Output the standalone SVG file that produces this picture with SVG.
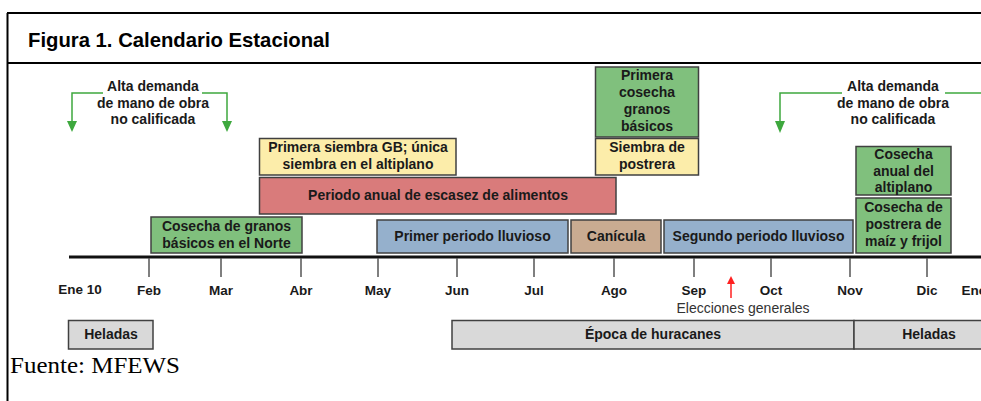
<svg xmlns="http://www.w3.org/2000/svg" width="981" height="401" viewBox="0 0 981 401">
<style>
.frame{stroke:#000;stroke-width:2;fill:none}
.box{stroke:#404040;stroke-width:1.5}
.g{fill:#80c07d}
.y{fill:#fcedaa}
.r{fill:#d97b7b}
.b{fill:#95b0cc}
.t{fill:#c9ab91}
.h{fill:#d9d9d9}
.lbl{font-family:"Liberation Sans",Arial,sans-serif;font-weight:bold;font-size:14px;fill:#1a1a1a;text-anchor:middle}
.mon{font-family:"Liberation Sans",Arial,sans-serif;font-weight:bold;font-size:13.5px;fill:#1a1a1a;text-anchor:middle}
.tick{stroke:#555;stroke-width:1.5}
.gl{stroke:#3ea83e;stroke-width:1.5;fill:none}
</style>
<g id="frame">
<line class="frame" x1="7.5" y1="13" x2="7.5" y2="401"/>
<line class="frame" x1="7" y1="13" x2="981" y2="13"/>
<line class="frame" x1="7" y1="63" x2="981" y2="63"/>
<text x="28" y="47" font-family="'Liberation Sans',Arial,sans-serif" font-weight="bold" font-size="21" fill="#000" textLength="302" lengthAdjust="spacingAndGlyphs">Figura 1. Calendario Estacional</text>
</g>
<g id="connectors">
<path class="gl" d="M103,93 H72 V121"/>
<path d="M67,121 L77,121 L72,132 Z" fill="#3ea83e"/>
<path class="gl" d="M202,93 H227 V121"/>
<path d="M222,121 L232,121 L227,132 Z" fill="#3ea83e"/>
<path class="gl" d="M842,93 H780 V121"/>
<path d="M775,121 L785,121 L780,133 Z" fill="#3ea83e"/>
<path class="gl" d="M945,93 H981"/>
<line x1="731" y1="298" x2="731" y2="282" stroke="#ff2020" stroke-width="1.5"/>
<path d="M727,284 L735,284 L731,276 Z" fill="#ff2020"/>
</g>
<g id="demanda1">
<text class="lbl" x="153" y="91">Alta demanda</text>
<text class="lbl" x="153" y="108">de mano de obra</text>
<text class="lbl" x="153" y="124">no calificada</text>
</g>
<g id="demanda2">
<text class="lbl" x="893" y="91">Alta demanda</text>
<text class="lbl" x="893" y="108">de mano de obra</text>
<text class="lbl" x="893" y="124">no calificada</text>
</g>
<g id="primera-cosecha">
<rect class="box g" x="595.5" y="67" width="103" height="70"/>
<text class="lbl" x="647" y="80">Primera</text>
<text class="lbl" x="647" y="97">cosecha</text>
<text class="lbl" x="647" y="114">granos</text>
<text class="lbl" x="647" y="131">básicos</text>
</g>
<g id="siembra-postrera">
<rect class="box y" x="595.5" y="138.5" width="103" height="36.5"/>
<text class="lbl" x="647" y="152">Siembra de</text>
<text class="lbl" x="647" y="169">postrera</text>
</g>
<g id="primera-siembra">
<rect class="box y" x="259.5" y="138.5" width="196.5" height="36.5"/>
<text class="lbl" x="358" y="152">Primera siembra GB; única</text>
<text class="lbl" x="358" y="169">siembra en el altiplano</text>
</g>
<g id="escasez">
<rect class="box r" x="259.5" y="177.5" width="356.5" height="36.5"/>
<text class="lbl" x="438" y="200">Periodo anual de escasez de alimentos</text>
</g>
<g id="cosecha-norte">
<rect class="box g" x="151" y="217" width="151" height="36"/>
<text class="lbl" x="226.5" y="231">Cosecha de granos</text>
<text class="lbl" x="226.5" y="248">básicos en el Norte</text>
</g>
<g id="primer-lluvioso">
<rect class="box b" x="377" y="220" width="191" height="33"/>
<text class="lbl" x="472.5" y="241">Primer periodo lluvioso</text>
</g>
<g id="canicula">
<rect class="box t" x="571" y="220" width="90" height="33"/>
<text class="lbl" x="616" y="241">Canícula</text>
</g>
<g id="segundo-lluvioso">
<rect class="box b" x="664" y="220" width="189" height="33"/>
<text class="lbl" x="758.5" y="241">Segundo periodo lluvioso</text>
</g>
<g id="cosecha-altiplano">
<rect class="box g" x="856" y="146.5" width="95" height="48.5"/>
<text class="lbl" x="903.5" y="159">Cosecha</text>
<text class="lbl" x="903.5" y="176">anual del</text>
<text class="lbl" x="903.5" y="192">altiplano</text>
</g>
<g id="cosecha-postrera">
<rect class="box g" x="856" y="198" width="95" height="55"/>
<text class="lbl" x="903.5" y="212">Cosecha de</text>
<text class="lbl" x="903.5" y="229">postrera de</text>
<text class="lbl" x="903.5" y="246">maíz y frijol</text>
</g>
<g id="axis">
<line x1="69" y1="257" x2="981" y2="257" stroke="#111" stroke-width="3"/>
<line class="tick" x1="149" y1="258" x2="149" y2="277"/>
<line class="tick" x1="221" y1="258" x2="221" y2="277"/>
<line class="tick" x1="301" y1="258" x2="301" y2="277"/>
<line class="tick" x1="378" y1="258" x2="378" y2="277"/>
<line class="tick" x1="457" y1="258" x2="457" y2="277"/>
<line class="tick" x1="534" y1="258" x2="534" y2="277"/>
<line class="tick" x1="614" y1="258" x2="614" y2="277"/>
<line class="tick" x1="694" y1="258" x2="694" y2="277"/>
<line class="tick" x1="771" y1="258" x2="771" y2="277"/>
<line class="tick" x1="850" y1="258" x2="850" y2="277"/>
<line class="tick" x1="927" y1="258" x2="927" y2="277"/>
<text class="mon" x="80" y="294">Ene 10</text>
<text class="mon" x="149" y="295">Feb</text>
<text class="mon" x="221" y="295">Mar</text>
<text class="mon" x="301" y="295">Abr</text>
<text class="mon" x="378" y="295">May</text>
<text class="mon" x="457" y="295">Jun</text>
<text class="mon" x="534" y="295">Jul</text>
<text class="mon" x="614" y="295">Ago</text>
<text class="mon" x="694" y="295">Sep</text>
<text class="mon" x="771" y="295">Oct</text>
<text class="mon" x="850" y="295">Nov</text>
<text class="mon" x="927" y="295">Dic</text>
<text class="mon" x="974" y="295" text-anchor="start">Ene</text>
</g>
<g id="elecciones">
<text x="743" y="313" font-family="'Liberation Sans',Arial,sans-serif" font-size="14" fill="#333" text-anchor="middle">Elecciones generales</text>
</g>
<g id="heladas1">
<rect class="box h" x="68.5" y="320.5" width="84.5" height="28.5"/>
<text class="lbl" x="111" y="339">Heladas</text>
</g>
<g id="huracanes">
<rect class="box h" x="452" y="320.5" width="402" height="28.5"/>
<text class="lbl" x="653" y="339">Época de huracanes</text>
</g>
<g id="heladas2">
<rect class="box h" x="854" y="320.5" width="140" height="28.5"/>
<text class="lbl" x="929" y="339">Heladas</text>
</g>
<text x="10" y="373" font-family="'Liberation Serif','Times New Roman',serif" font-size="23" fill="#000" textLength="170" lengthAdjust="spacingAndGlyphs">Fuente: MFEWS</text>
</svg>
